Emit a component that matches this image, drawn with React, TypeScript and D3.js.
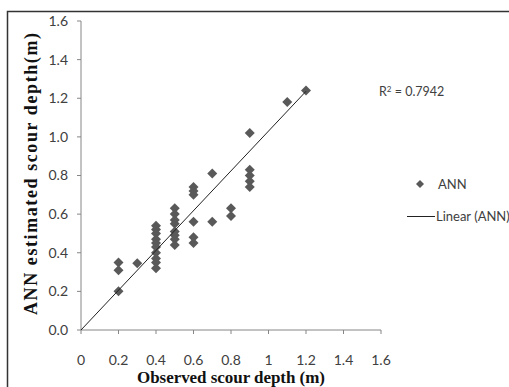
import * as d3 from 'd3'

// observed scour depth (m) vs ANN estimate (m)
const observed = [
  0.2, 0.2, 0.2,
  0.3,
  0.4, 0.4, 0.4, 0.4, 0.4, 0.4, 0.4, 0.4, 0.4, 0.4,
  0.5, 0.5, 0.5, 0.5, 0.5, 0.5, 0.5, 0.5,
  0.6, 0.6, 0.6, 0.6, 0.6, 0.6,
  0.7, 0.7,
  0.8, 0.8,
  0.9, 0.9, 0.9, 0.9, 0.9,
  1.1,
  1.2,
]
const estimated = [
  0.35, 0.31, 0.2,
  0.345,
  0.54, 0.52, 0.5, 0.47, 0.45, 0.43, 0.4, 0.37, 0.35, 0.32,
  0.63, 0.6, 0.57, 0.55, 0.51, 0.49, 0.47, 0.44,
  0.74, 0.72, 0.7, 0.56, 0.48, 0.45,
  0.81, 0.56,
  0.63, 0.59,
  1.02, 0.83, 0.8, 0.77, 0.74,
  1.18,
  1.24,
]

const xTicks = [0, 0.2, 0.4, 0.6, 0.8, 1, 1.2, 1.4, 1.6]
const yTicks = [0, 0.2, 0.4, 0.6, 0.8, 1.0, 1.2, 1.4, 1.6]

// trendline as drawn in the chart (through the origin)
const trendSlope = 1.03
const trendRange = [0, 1.2]
const rSquared = '0.7942'

const W = 509
const H = 387
const axisColor = '#868686'
const markColor = '#595959'
const textColor = '#404040'
const labelFont = 'Lato, "Open Sans", sans-serif'
const titleFont = '"Liberation Serif", "DejaVu Serif", serif'

export default function App() {
  const x = d3.scaleLinear().domain([0, 1.6]).range([81, 381])
  const y = d3.scaleLinear().domain([0, 1.6]).range([330, 21])

  const diamond = d3.symbol().type(d3.symbolSquare).size(50)()
  const trend = d3
    .line<number>()
    .x((d) => x(d))
    .y((d) => y(d * trendSlope))(trendRange)

  return (
    <svg
      width={W}
      height={H}
      style={{ position: 'absolute', left: 0, top: 0, background: '#fff' }}
    >
      {/* outer chart frame, cropped at right and bottom */}
      <rect x={7.5} y={11.5} width={600} height={500} fill="none" stroke="#333" strokeWidth={1.5} />

      {/* y axis */}
      <line x1={x(0)} x2={x(0)} y1={y(0)} y2={y(1.6)} stroke={axisColor} />
      {yTicks.map((t) => (
        <g key={'y' + t}>
          <line x1={x(0) - 4} x2={x(0)} y1={y(t)} y2={y(t)} stroke={axisColor} />
          <text
            x={68}
            y={y(t)}
            dy="0.35em"
            textAnchor="end"
            fontFamily={labelFont}
            fontSize={14}
            fill={textColor}
          >
            {d3.format('.1f')(t)}
          </text>
        </g>
      ))}

      {/* x axis */}
      <line x1={x(0)} x2={x(1.6)} y1={y(0)} y2={y(0)} stroke={axisColor} />
      {xTicks.map((t) => (
        <g key={'x' + t}>
          <line x1={x(t)} x2={x(t)} y1={y(0)} y2={y(0) + 4} stroke={axisColor} />
          <text
            x={x(t)}
            y={365}
            textAnchor="middle"
            fontFamily={labelFont}
            fontSize={14}
            fill={textColor}
          >
            {String(t)}
          </text>
        </g>
      ))}

      {/* axis titles */}
      <text
        x={231}
        y={383}
        textAnchor="middle"
        fontFamily={titleFont}
        fontWeight="bold"
        fontSize={17}
        textLength={188}
        lengthAdjust="spacing"
        fill="#111"
      >
        Observed scour depth (m)
      </text>
      <text
        transform="translate(37,174) rotate(-90)"
        textAnchor="middle"
        fontFamily={titleFont}
        fontWeight="bold"
        fontSize={18}
        textLength={282}
        lengthAdjust="spacing"
        fill="#111"
      >
        ANN estimated scour depth(m)
      </text>

      {/* points */}
      {observed.map((o, i) => (
        <path
          key={i}
          d={diamond ?? ''}
          transform={`translate(${x(o)},${y(estimated[i])}) rotate(45)`}
          fill={markColor}
        />
      ))}

      {/* linear trendline */}
      <path d={trend ?? ''} fill="none" stroke="#222" strokeWidth={1} />

      {/* R squared */}
      <text x={379} y={96} fontFamily={labelFont} fontSize={12.5} fill={textColor}>
        R
        <tspan dy={-4} fontSize={8}>2</tspan>
        <tspan dy={4}> = {rSquared}</tspan>
      </text>

      {/* legend */}
      <path d={diamond ?? ''} transform="translate(420,184) rotate(45) scale(0.8)" fill={markColor} />
      <text x={438} y={184} dy="0.35em" fontFamily={labelFont} fontSize={13} fill={textColor}>
        ANN
      </text>
      <line x1={407} x2={435} y1={216.5} y2={216.5} stroke="#222" />
      <text x={436} y={216.5} dy="0.35em" fontFamily={labelFont} fontSize={13} fill={textColor}>
        Linear (ANN)
      </text>
    </svg>
  )
}
